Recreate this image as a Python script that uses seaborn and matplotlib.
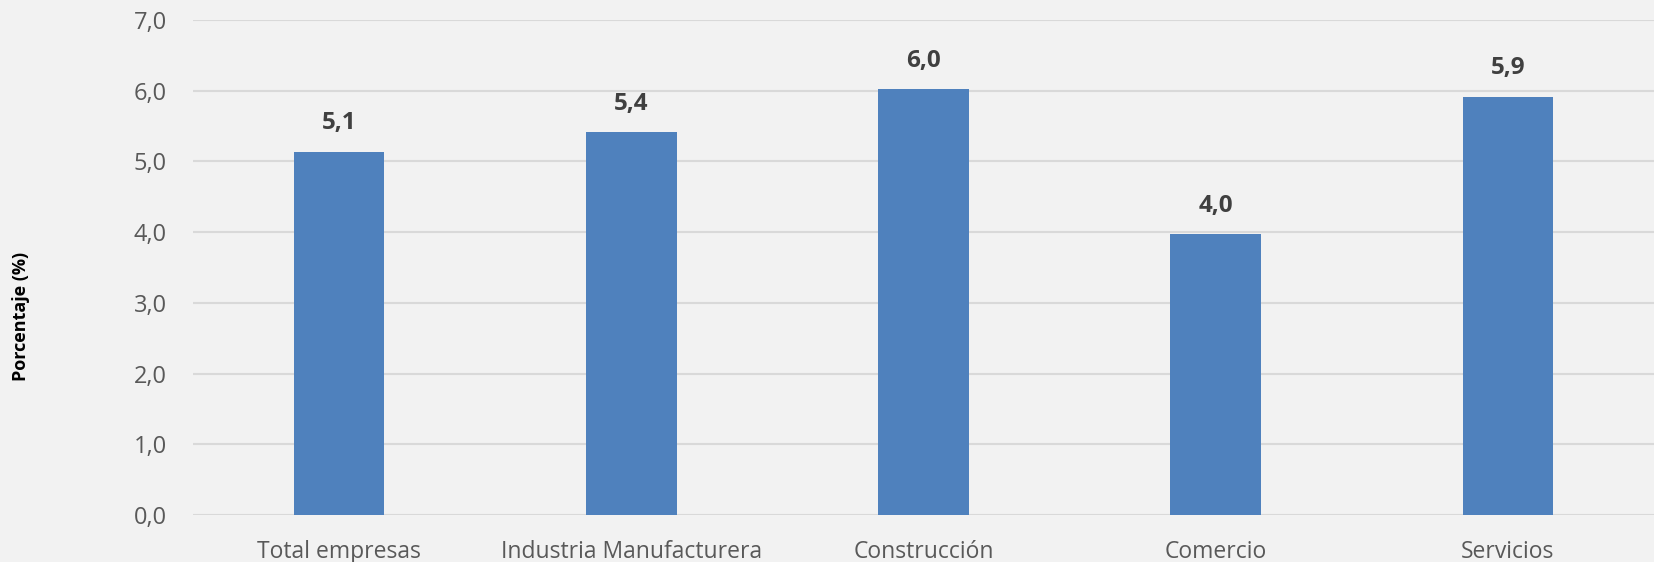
import pandas as pd
import matplotlib.pyplot as plt
import seaborn as sns

# Data
categorias = ["Total empresas", "Industria Manufacturera", "Construcción", "Comercio", "Servicios"]
porcentajes = [5.14, 5.41, 6.02, 3.97, 5.91]

df = pd.DataFrame({"categoria": categorias, "porcentaje": porcentajes})

bg = "#F2F2F2"
bar_color = "#4F81BD"
grid_color = "#D9D9D9"
text_gray = "#595959"

sns.set_theme(style="white")
plt.rcParams['font.family'] = ['Open Sans', 'DejaVu Sans']

fig = plt.figure(figsize=(16.54, 5.62), dpi=100, facecolor=bg)
ax = fig.add_axes([0.1167, 0.0836, 0.8833, 0.8808])
ax.set_facecolor(bg)

sns.barplot(data=df, x="categoria", y="porcentaje", color=bar_color,
            width=0.31, saturation=1, linewidth=0, ax=ax, zorder=3)

ax.set_ylim(0, 7)
ax.set_xlim(-0.5, 4.5)
ax.set_yticks(range(0, 8))
ax.set_yticklabels([f"{v},0" for v in range(0, 8)], fontsize=17, color=text_gray)
ax.tick_params(axis='x', labelsize=16.5, labelcolor=text_gray, length=0, pad=18)
ax.tick_params(axis='y', length=0, pad=19)
ax.yaxis.grid(True, color=grid_color, linewidth=1.5, zorder=0)
ax.set_axisbelow(True)
for s in ax.spines.values():
    s.set_visible(False)

ax.set_xlabel("")
ax.set_ylabel("")
fig.text(0.0127, 0.437, "Porcentaje (%)", rotation=90, ha='center', va='center',
         fontsize=13, fontweight='bold', color="#000000")

# value labels with comma decimal
for i, v in enumerate(porcentajes):
    ax.annotate(f"{v:.1f}".replace(".", ","), (i, v), xytext=(0, 12),
                textcoords='offset points', ha='center', va='bottom',
                fontsize=17.5, fontweight='bold', color="#404040")

fig.savefig("out.png", dpi=100, facecolor=bg)
